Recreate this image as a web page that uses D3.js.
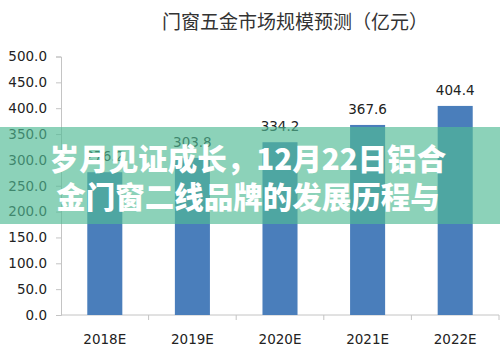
<!DOCTYPE html>
<html>
<head>
<meta charset="utf-8">
<script src="https://cdn.jsdelivr.net/npm/d3@7"></script>
<style>
  html, body { margin: 0; padding: 0; background: #fff; }
  svg { display: block; }
</style>
</head>
<body>
<div id="chart"></div>
<script>
// data
const years  = ["2018E", "2019E", "2020E", "2021E", "2022E"];
const values = [276.2, 303.8, 334.2, 367.6, 404.4];
const yTicks = [0, 50, 100, 150, 200, 250, 300, 350, 400, 450, 500];
const chartTitle = "门窗五金市场规模预测（亿元）";
const overlayLines = ["岁月见证成长，12月22日铝合", "金门窗二线品牌的发展历程与"];

const width = 500, height = 353;
const margin = { top: 56.5, right: 1, bottom: 38, left: 61 };
const innerW = width - margin.left - margin.right;
const innerH = height - margin.top - margin.bottom;

const svg = d3.select("#chart").append("svg")
  .attr("width", width)
  .attr("height", height);

const g = svg.append("g")
  .attr("transform", `translate(${margin.left},${margin.top})`);

const x = d3.scaleBand()
  .domain(years)
  .range([0, innerW])
  .paddingInner(0.6)
  .paddingOuter(0.3);

const y = d3.scaleLinear()
  .domain([0, 500])
  .range([innerH, 0]);

const labelFont = "'DejaVu Sans', Verdana, sans-serif";

// title
svg.append("text")
  .attr("x", 295)
  .attr("y", 29)
  .attr("text-anchor", "middle")
  .attr("font-family", "'Noto Sans CJK SC', sans-serif")
  .attr("font-size", 19)
  .attr("fill", "#333")
  .text(chartTitle);

// y axis
const yAxis = g.append("g")
  .call(d3.axisLeft(y).tickValues(yTicks).tickSize(5).tickFormat(d3.format(".1f")));
yAxis.select(".domain").attr("stroke", "#c4c4c4");
yAxis.selectAll(".tick line").attr("stroke", "#c4c4c4");
yAxis.selectAll(".tick text")
  .attr("x", -14)
  .attr("font-family", labelFont)
  .attr("font-size", 13.5)
  .attr("fill", "#222");

// x axis with ticks at band boundaries
const step = x.step();
const xAxis = g.append("g").attr("transform", `translate(0,${innerH})`);
xAxis.append("line")
  .attr("x1", 0).attr("x2", innerW)
  .attr("y1", 0).attr("y2", 0)
  .attr("stroke", "#c4c4c4");
xAxis.selectAll(".xtick")
  .data(years)
  .enter().append("line")
  .attr("x1", d => x(d) + x.bandwidth() / 2 + step / 2)
  .attr("x2", d => x(d) + x.bandwidth() / 2 + step / 2)
  .attr("y1", 0).attr("y2", 5)
  .attr("stroke", "#c4c4c4");
xAxis.selectAll(".xlabel")
  .data(years)
  .enter().append("text")
  .attr("x", d => x(d) + x.bandwidth() / 2)
  .attr("y", 29)
  .attr("text-anchor", "middle")
  .attr("font-family", labelFont)
  .attr("font-size", 13.5)
  .attr("fill", "#222")
  .text(d => d);

// bars
const data = years.map((d, i) => ({ year: d, value: values[i] }));
g.selectAll(".bar")
  .data(data)
  .enter().append("rect")
  .attr("x", d => x(d.year))
  .attr("y", d => y(d.value))
  .attr("width", x.bandwidth())
  .attr("height", d => innerH - y(d.value))
  .attr("fill", "#4a7ebb");

// value labels
g.selectAll(".val")
  .data(data)
  .enter().append("text")
  .attr("x", d => x(d.year) + x.bandwidth() / 2)
  .attr("y", d => y(d.value) - 11)
  .attr("text-anchor", "middle")
  .attr("font-family", labelFont)
  .attr("font-size", 13.5)
  .attr("fill", "#222")
  .text(d => d3.format(".1f")(d.value));

// translucent overlay band with headline
svg.append("rect")
  .attr("x", 0).attr("y", 127)
  .attr("width", width).attr("height", 97)
  .attr("fill", "rgb(81,187,149)")
  .attr("fill-opacity", 0.66);

svg.selectAll(".headline")
  .data(overlayLines)
  .enter().append("text")
  .attr("x", 248)
  .attr("y", (d, i) => 170 + i * 38)
  .attr("text-anchor", "middle")
  .attr("font-family", "'Noto Sans CJK SC', sans-serif")
  .attr("font-weight", 900)
  .attr("font-size", 29.5)
  .attr("fill", "#fff")
  .text(d => d);
</script>
</body>
</html>
